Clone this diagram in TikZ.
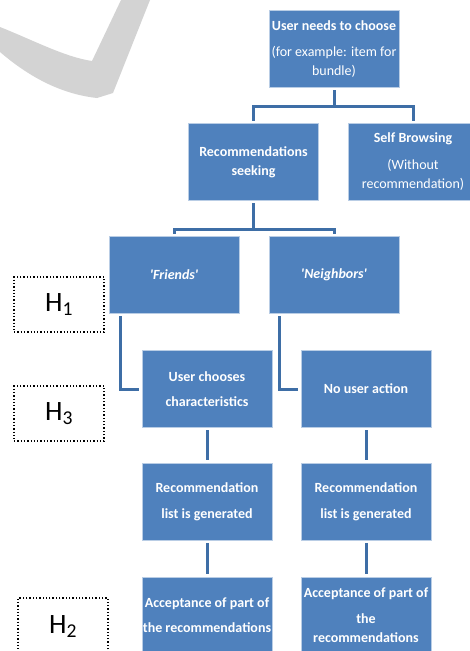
\documentclass[tikz,border=0pt]{standalone}
\usepackage{fontspec}
\setmainfont{Carlito}
\definecolor{boxblue}{HTML}{4F81BD}
\definecolor{lineblue}{HTML}{3E6EA6}
\definecolor{markgray}{HTML}{D3D3D3}
\newcommand{\qt}[1]{\textquotesingle#1\textquotesingle}
\begin{document}
\begin{tikzpicture}[x=1pt,y=-1pt,
    flow/.style={rectangle,fill=boxblue,draw=boxblue!40!white,line width=0.6pt,text=white,
      minimum width=130pt,minimum height=77pt,inner sep=0pt,align=center,
      font=\fontsize{14}{19}\selectfont\bfseries},
    link/.style={draw=lineblue,line width=3pt,shorten <=2.5pt,shorten >=2.5pt},
    hyp/.style={rectangle,draw=black,line width=1.3pt,dotted,minimum width=90pt,minimum height=55pt,
      inner sep=0pt,font=\fontsize{28}{30}\selectfont}]
    \useasboundingbox (0,0) rectangle (470,651);
    \clip (0,0) rectangle (470,651);
    \fill[markgray] (0,27) .. controls (35,41) and (65,57) .. (92,61) -- (121,0) -- (150,0)
        -- (113,93) -- (97,98) .. controls (60,94) and (28,76) .. (0,52) -- cycle;
    \node[flow] (choose) at (334,49) {User needs to choose\\[7pt]\mdseries (for example: item for\\\mdseries bundle)};
    \node[flow] (seek) at (253.5,162) {Recommendations\\seeking};
    \node[flow] (browse) at (413,162) {Self Browsing\\[8pt]\mdseries (Without\\\mdseries recommendation)};
    \node[flow] (friends) at (174,275) {\itshape\qt{Friends}};
    \node[flow] (neighbors) at (334,275) {\itshape\qt{Neighbors}};
    \node[flow] (charact) at (207,389) {User chooses\\[6pt]characteristics};
    \node[flow] (noaction) at (366,389) {No user action};
    \node[flow] (listF) at (207,501.5) {Recommendation\\[7pt]list is generated};
    \node[flow] (listN) at (366,501.5) {Recommendation\\[7pt]list is generated};
    \node[flow] (acceptF) at (207,615.5) {Acceptance of part of\\[6pt]the recommendations};
    \node[flow] (acceptN) at (366,615.5) {Acceptance of part of\\[7pt]the\\recommendations};
    \node[hyp] (hone) at (59,304.5) {H\textsubscript{1}};
    \node[hyp] (hthree) at (59,413.5) {H\textsubscript{3}};
    \node[hyp,minimum height=57pt] (htwo) at (63,626.5) {H\textsubscript{2}};
    \draw[link] (choose.south) -- ++(0,19) -| (seek.north);
    \draw[link] (choose.south) -- ++(0,19) -| (browse.north);
    \draw[link] (seek.south) -- ++(0,29) -| (friends.north);
    \draw[link] (seek.south) -- ++(0,29) -| (neighbors.north);
    \draw[link] ([xshift=12pt]friends.south west) |- (charact.west);
    \draw[link] ([xshift=11pt]neighbors.south west) |- (noaction.west);
    \draw[link] (charact) -- (listF);
    \draw[link] (noaction) -- (listN);
    \draw[link] (listF) -- (acceptF);
    \draw[link] (listN) -- (acceptN);
\end{tikzpicture}
\end{document}
